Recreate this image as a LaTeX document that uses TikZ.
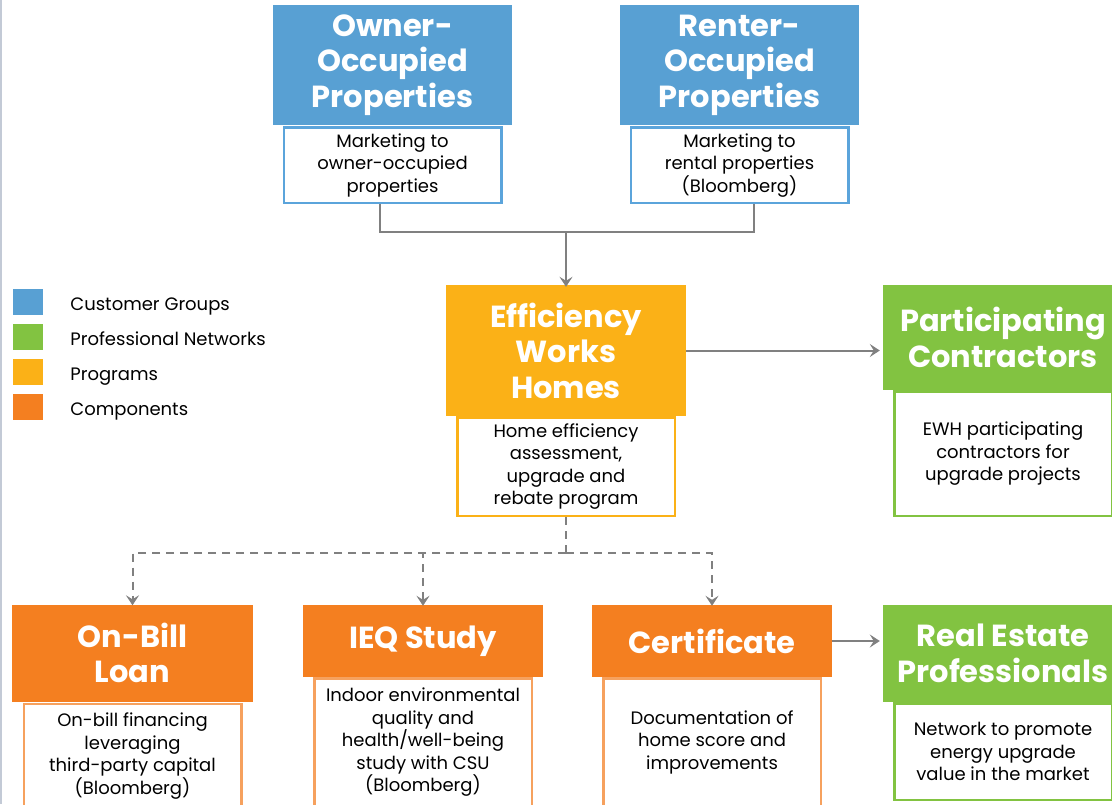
\documentclass[tikz,border=0pt]{standalone}
\usepackage{fontspec}
\setmainfont{Poppins}
\usetikzlibrary{arrows.meta,positioning}
\definecolor{custblue}{HTML}{58A0D3}
\definecolor{netgreen}{HTML}{82C341}
\definecolor{proyellow}{HTML}{FBB117}
\definecolor{comporange}{HTML}{F47F20}
\definecolor{subblue}{HTML}{5BA4DB}
\definecolor{suborange}{HTML}{F6A15E}
\definecolor{linkgray}{HTML}{808080}
\definecolor{edgegray}{HTML}{C3CAD6}
\begin{document}
\begin{tikzpicture}[x=1pt,y=-1pt,
    head/.style={fill=#1,text=white,align=center,inner sep=0pt,
      font=\bfseries\fontsize{30.5}{35.5}\selectfont},
    sub/.style={draw=#1,line width=2.5pt,fill=white,align=center,inner sep=0pt,
      anchor=north,minimum width=217.5pt,font=\fontsize{18}{22.5}\selectfont},
    link/.style={draw=linkgray,line width=2pt},
    tip/.style={-{Stealth[length=10pt,width=13pt,inset=4pt]}},
    dashlink/.style={link,dash pattern=on 8pt off 6pt}]
  \useasboundingbox (0,0) rectangle (1112,804);
  \clip (0,0) rectangle (1112,804);
  \draw[color=edgegray,line width=2pt] (1,0) -- (1,804);
  % customer groups
  \node[head=custblue,minimum width=239pt,minimum height=120pt] (own) at (392.5,65) {Owner-\\Occupied\\Properties};
  \node[sub=subblue,minimum height=75.5pt] (ownsub) at ([yshift=-1pt]own.south) {Marketing to\\owner-occupied\\properties};
  \node[head=custblue,minimum width=239pt,minimum height=120pt] (rent) at (739.5,65) {Renter-\\Occupied\\Properties};
  \node[sub=subblue,minimum height=75.5pt] (rentsub) at ([yshift=-1pt]rent.south) {Marketing to\\rental properties\\(Bloomberg)};
  % program
  \node[head=proyellow,minimum width=240pt,minimum height=131pt] (ewh) at (566,350.5) {Efficiency\\Works\\Homes};
  \node[sub=proyellow,minimum height=98.5pt] (ewhsub) at (ewh.south) {Home efficiency\\assessment,\\upgrade and\\rebate program};
  % professional networks
  \node[head=netgreen,minimum width=240pt,minimum height=105pt] (part) at (1003,337.5) {Participating\\Contractors};
  \node[sub=netgreen,minimum height=124.5pt] (partsub) at (part.south) {EWH participating\\contractors for\\upgrade projects};
  \node[head=netgreen,minimum width=240pt,minimum height=97pt] (real) at (1003,653.5) {Real Estate\\Professionals};
  \node[sub=netgreen,minimum height=96.5pt] (realsub) at (real.south) {Network to promote\\energy upgrade\\value in the market};
  % components
  \node[head=comporange,minimum width=241pt,minimum height=97pt] (bill) at (132.5,653) {On-Bill\\Loan};
  \node[sub=suborange,minimum height=104pt] (billsub) at ([yshift=-1pt]bill.south) {On-bill financing\\leveraging\\third-party capital\\(Bloomberg)};
  \node[head=comporange,minimum width=240pt,minimum height=72pt] (ieq) at (423,641) {IEQ Study};
  \node[sub=suborange,minimum height=128pt] (ieqsub) at (ieq.south) {Indoor environmental\\quality and\\health/well-being\\study with CSU\\(Bloomberg)};
  \node[head=comporange,minimum width=240pt,minimum height=72pt] (cert) at (712,641) {Certificate};
  \node[sub=suborange,minimum height=128pt] (certsub) at (cert.south) {Documentation of\\home score and\\improvements};
  % connectors
  \coordinate (join) at (566,232);
  \coordinate (split) at (566,553);
  \draw[link] ([xshift=-13pt]ownsub.south) |- (join) -| ([xshift=14pt]rentsub.south);
  \draw[link,tip] (join) -- ([yshift=-2pt]ewh.north);
  \draw[link,tip] (ewh.east) -- ([xshift=-3pt]ewh.east -| part.west);
  \draw[link,tip] (cert.east) -- ([xshift=-3pt]cert.east -| real.west);
  \draw[dashlink] (ewhsub.south) -- (split);
  \foreach \n in {bill,ieq,cert}
    \draw[dashlink,tip] (split) -| ([yshift=-1pt]\n.north);
  % legend
  \foreach \c/\t [count=\i] in {custblue/Customer Groups,netgreen/Professional Networks,proyellow/Programs,comporange/Components}{
    \node[fill=\c,minimum width=30pt,minimum height=26pt,inner sep=0pt] (leg\i) at (28,267+35*\i) {};
    \node[anchor=base west,inner sep=0pt,font=\fontsize{18}{20}\selectfont] (legtext\i) at ([xshift=27pt,yshift=-8pt]leg\i.east) {\t};}
\end{tikzpicture}
\end{document}
